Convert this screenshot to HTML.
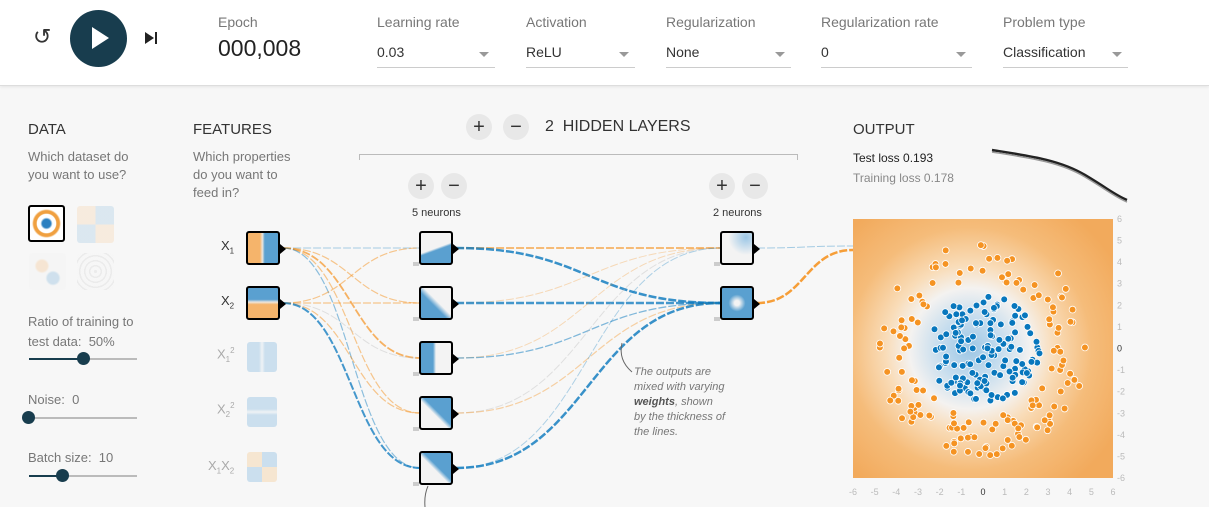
<!DOCTYPE html>
<html><head><meta charset="utf-8"><style>
*{margin:0;padding:0;box-sizing:border-box}
body{width:1209px;height:507px;overflow:hidden;background:#f7f7f7;font-family:"Liberation Sans",sans-serif;position:relative;color:#333}
.hdr{position:absolute;left:0;top:0;width:1209px;height:86px;background:#fff;border-bottom:1px solid #ddd;box-shadow:0 1px 3px rgba(0,0,0,.08)}
.a{position:absolute;white-space:nowrap}
.lbl{font-size:14px;color:#777}
.sel{position:absolute;top:44px;font-size:14px;color:#333;border-bottom:1px solid #ccc;height:24px}
.sel:after{content:"";position:absolute;right:6px;top:8px;border:5px solid transparent;border-top-color:#999}
.ttl{font-size:15px;color:#333}
.sub{font-size:13px;color:#777;line-height:18px}
.node{position:absolute;width:34px;height:34px;border:2px solid #000;border-radius:3px}
.node:after{content:"";position:absolute;right:-8px;top:11px;border-left:6px solid #000;border-top:5px solid transparent;border-bottom:5px solid transparent}
.faint{position:absolute;width:30px;height:30px;border-radius:3px;opacity:.35}
.btn{position:absolute;width:26px;height:26px;border-radius:50%;background:#e8e8e8;text-align:center;line-height:26px;font-size:20px;color:#333}
.thumb{position:absolute;width:37px;height:37px;border-radius:3px}
.track{position:absolute;height:2px;background:#bbb}
.knob{position:absolute;width:13px;height:13px;border-radius:50%;background:#183d4e}
</style></head><body>
<div class="hdr">
 <div class="a" style="left:33px;top:24px;font-size:22px;color:#333">&#8634;</div>
 <div class="a" style="left:70px;top:10px;width:57px;height:57px;border-radius:50%;background:#183d4e"></div>
 <div class="a" style="left:92px;top:27px;width:0;height:0;border-left:17px solid #fff;border-top:11px solid transparent;border-bottom:11px solid transparent"></div>
 <div class="a" style="left:145px;top:32px;width:0;height:0;border-left:9px solid #222;border-top:6px solid transparent;border-bottom:6px solid transparent"></div>
 <div class="a" style="left:155px;top:32px;width:2px;height:12px;background:#222"></div>
 <div class="a lbl" style="left:218px;top:14px">Epoch</div>
 <div class="a" style="left:218px;top:35px;font-size:23px;color:#222">000,008</div>
 <div class="a lbl" style="left:377px;top:14px">Learning rate</div><div class="sel" style="left:377px;width:118px">0.03</div>
 <div class="a lbl" style="left:526px;top:14px">Activation</div><div class="sel" style="left:526px;width:109px">ReLU</div>
 <div class="a lbl" style="left:666px;top:14px">Regularization</div><div class="sel" style="left:666px;width:125px">None</div>
 <div class="a lbl" style="left:821px;top:14px">Regularization rate</div><div class="sel" style="left:821px;width:151px">0</div>
 <div class="a lbl" style="left:1003px;top:14px">Problem type</div><div class="sel" style="left:1003px;width:125px">Classification</div>
</div>

<div class="a ttl" style="left:28px;top:121px">DATA</div>
<div class="a sub" style="left:28px;top:148px">Which dataset do<br>you want to use?</div>
<div class="thumb" style="left:28px;top:205px;border:2px solid #000;background:radial-gradient(circle,#2a7fc0 0 18%,#fff 26% 40%,#f0a040 44% 55%,#fff 62%)"></div>
<div class="thumb" style="left:77px;top:206px;opacity:.18;background:conic-gradient(#5aa0d0 0 25%,#f5b46b 25% 50%,#5aa0d0 50% 75%,#f5b46b 75%)"></div>
<div class="thumb" style="left:29px;top:253px;opacity:.25;background:radial-gradient(circle at 35% 35%,#f5b46b 0 16%,transparent 22%),radial-gradient(circle at 65% 68%,#5aa0d0 0 16%,transparent 22%),#f3f3f3"></div>
<div class="thumb" style="left:77px;top:253px;opacity:.2;background:repeating-radial-gradient(circle,#bbb 0 1.5px,#f5f5f5 1.5px 5px)"></div>
<div class="a sub" style="left:28px;top:312px;line-height:20px">Ratio of training to<br>test data:&nbsp; 50%</div>
<div class="track" style="left:29px;top:358px;width:108px"></div><div class="track" style="left:29px;top:358px;width:54px;background:#183d4e"></div><div class="knob" style="left:77px;top:352px"></div>
<div class="a sub" style="left:28px;top:391px">Noise:&nbsp; 0</div>
<div class="track" style="left:29px;top:417px;width:108px"></div><div class="knob" style="left:22px;top:411px"></div>
<div class="a sub" style="left:28px;top:449px">Batch size:&nbsp; 10</div>
<div class="track" style="left:29px;top:475px;width:108px"></div><div class="track" style="left:29px;top:475px;width:33px;background:#183d4e"></div><div class="knob" style="left:56px;top:469px"></div>

<div class="a ttl" style="left:193px;top:121px">FEATURES</div>
<div class="a sub" style="left:193px;top:148px">Which properties<br>do you want to<br>feed in?</div>

<div class="btn" style="left:466px;top:114px">+</div><div class="btn" style="left:503px;top:114px">&minus;</div>
<div class="a" style="left:545px;top:118px;font-size:16px;color:#333">2&nbsp; HIDDEN LAYERS</div>
<div class="a" style="left:359px;top:154px;width:439px;height:6px;border-top:1px solid #bbb;border-left:1px solid #bbb;border-right:1px solid #bbb"></div>
<div class="btn" style="left:408px;top:173px">+</div><div class="btn" style="left:441px;top:173px">&minus;</div>
<div class="a" style="left:412px;top:207px;font-size:11px;color:#333">5 neurons</div>
<div class="btn" style="left:709px;top:173px">+</div><div class="btn" style="left:742px;top:173px">&minus;</div>
<div class="a" style="left:713px;top:207px;font-size:11px;color:#333">2 neurons</div>

<div class="a ttl" style="left:853px;top:121px">OUTPUT</div>
<div class="a" style="left:853px;top:151px;font-size:12px;color:#222">Test loss 0.193</div>
<div class="a" style="left:853px;top:171px;font-size:12px;color:#888">Training loss 0.178</div>

<svg class="a" style="left:0;top:0" width="1209" height="507" id="sv">
 <defs>
  <radialGradient id="rg" cx="45%" cy="50%" r="65%">
   <stop offset="0" stop-color="#9cc6e4"/><stop offset=".18" stop-color="#c4dcee"/><stop offset=".36" stop-color="#f4f2f0"/><stop offset=".5" stop-color="#f9dcb8"/><stop offset=".72" stop-color="#f5bc7a"/><stop offset="1" stop-color="#f2aa5c"/>
  </radialGradient>
 </defs>
 <g id="links" fill="none"></g>
 <path d="M992 150 C1030 156 1060 160 1085 175 S1115 195 1127 200" stroke="#222" stroke-width="2.5" fill="none"/>
 <path d="M992 152 C1030 158 1060 162 1085 177 S1115 197 1127 202" stroke="#999" stroke-width="1.5" fill="none"/>
 <rect x="853" y="219" width="260" height="259" fill="url(#rg)"/>
 <g id="dots"></g>
 <g id="ax" font-size="9" fill="#bbb" font-family="Liberation Sans"></g>
 <path d="M622 343 Q618 360 632 372" stroke="#666" fill="none" stroke-width="1"/>
 <path d="M428 486 Q424 495 425 507" stroke="#666" fill="none" stroke-width="1"/>
</svg>

<div class="a" style="left:221px;top:238px;font-size:13px">X<sub style="font-size:8px">1</sub></div>
<div class="a" style="left:221px;top:293px;font-size:13px">X<sub style="font-size:8px">2</sub></div>
<div class="a" style="left:217px;top:346px;font-size:13px;color:#aaa">X<sub style="font-size:8px">1</sub><sup style="font-size:8px">2</sup></div>
<div class="a" style="left:217px;top:401px;font-size:13px;color:#aaa">X<sub style="font-size:8px">2</sub><sup style="font-size:8px">2</sup></div>
<div class="a" style="left:208px;top:458px;font-size:13px;color:#aaa">X<sub style="font-size:8px">1</sub>X<sub style="font-size:8px">2</sub></div>
<div class="node" style="left:246px;top:231px;background:linear-gradient(90deg,#f5b46b 0 40%,#ece6de 48%,#5aa0d0 56%)"></div>
<div class="node" style="left:246px;top:286px;background:linear-gradient(180deg,#5aa0d0 0 38%,#ece6de 47%,#f5b46b 55%)"></div>
<div class="faint" style="left:247px;top:342px;background:linear-gradient(90deg,#7ab3dc 0 40%,#dfeaf2 50%,#7ab3dc 60%)"></div>
<div class="faint" style="left:247px;top:397px;background:linear-gradient(180deg,#7ab3dc 0 40%,#dfeaf2 50%,#7ab3dc 60%)"></div>
<div class="faint" style="left:247px;top:452px;background:conic-gradient(#7ab3dc 0 25%,#f5c58a 25% 50%,#7ab3dc 50% 75%,#f5c58a 75%)"></div>

<div class="node" style="left:419px;top:231px;background:linear-gradient(160deg,#f3f3f3 50%,#5aa0d0 56%)"></div>
<div class="node" style="left:419px;top:286px;background:linear-gradient(45deg,#5aa0d0 42%,#f3f3f3 55%)"></div>
<div class="node" style="left:419px;top:341px;background:linear-gradient(90deg,#5aa0d0 40%,#f3f3f3 50%)"></div>
<div class="node" style="left:419px;top:396px;background:linear-gradient(45deg,#f3f3f3 45%,#5aa0d0 55%)"></div>
<div class="node" style="left:419px;top:451px;background:linear-gradient(225deg,#5aa0d0 45%,#f3f3f3 55%)"></div>
<div class="node" style="left:720px;top:231px;background:radial-gradient(circle at 80% 15%,#9cc7e6,#f3f3f3 50%)"></div>
<div class="node" style="left:720px;top:286px;background:radial-gradient(ellipse at 50% 50%,#f3f3f3 0 12%,#5aa0d0 40%)"></div>

<div class="a" style="left:634px;top:365px;font-size:11px;font-style:italic;color:#777;line-height:15px">The outputs are<br>mixed with varying<br><b style="color:#555">weights</b>, shown<br>by the thickness of<br>the lines.</div>

<script>
var ns="http://www.w3.org/2000/svg",L=document.getElementById("links");
function ln(x1,y1,x2,y2,c,w,o){var m=(x1+x2)/2,p=document.createElementNS(ns,"path");p.setAttribute("d","M"+x1+" "+y1+" C"+m+" "+y1+","+m+" "+y2+","+x2+" "+y2);p.setAttribute("stroke",c);p.setAttribute("stroke-width",w);p.setAttribute("opacity",o);p.setAttribute("stroke-dasharray","8 2");L.appendChild(p);}
var O="#f59322",B="#0877bd",G="#bbb";
var ys=[248,303,358,413,468];
[[B,1,.35],[O,1.2,.5],[O,1.8,.7],[O,1.2,.5],[B,1.2,.45]].forEach(function(a,i){ln(283,248,420,ys[i],a[0],a[1],a[2]);});
[[O,1.2,.5],[O,1.2,.5],[G,1,.4],[O,1.2,.5],[B,2,.75]].forEach(function(a,i){ln(283,303,420,ys[i],a[0],a[1],a[2]);});
var l2=[[[O,2,.6],[B,2.5,.8]],[[O,1,.3],[B,2.5,.75]],[[O,1,.3],[B,1.3,.5]],[[G,1,.4],[O,1.2,.4]],[[B,1,.3],[B,2.5,.8]]];
l2.forEach(function(r,i){ln(456,ys[i],721,248,r[0][0],r[0][1],r[0][2]);ln(456,ys[i],721,303,r[1][0],r[1][1],r[1][2]);});
ln(757,248,853,246,B,1,.35);ln(757,303,853,250,O,2.5,.9);
[[413,262],[413,317],[413,372],[413,427],[413,482],[714,262],[714,317]].forEach(function(p){var r=document.createElementNS(ns,"rect");r.setAttribute("x",p[0]);r.setAttribute("y",p[1]);r.setAttribute("width",6);r.setAttribute("height",4);r.setAttribute("fill","#ccc");L.appendChild(r);});
var s=7;function rnd(){s=(s*16807)%2147483647;return s/2147483647;}
var D=document.getElementById("dots");
function dot(x,y,c){var e=document.createElementNS(ns,"circle");e.setAttribute("cx",983+x*21.67);e.setAttribute("cy",348.5-y*21.6);e.setAttribute("r",3.4);e.setAttribute("fill",c);e.setAttribute("stroke","#fff");e.setAttribute("stroke-width",0.8);D.appendChild(e);}
for(var i=0;i<150;i++){var a=rnd()*6.283,r=Math.sqrt(rnd())*2.5;dot(r*Math.cos(a)*1.05,r*Math.sin(a),B);}
for(var i=0;i<150;i++){var a=rnd()*6.283,r=3.2+rnd()*1.8;dot(r*Math.cos(a),r*Math.sin(a),O);}
var A=document.getElementById("ax");
for(var k=-6;k<=6;k++){var t=document.createElementNS(ns,"text");t.setAttribute("x",1117);t.setAttribute("y",351.5-k*21.6);t.textContent=k;if(k==0)t.setAttribute("fill","#333");A.appendChild(t);
var u=document.createElementNS(ns,"text");u.setAttribute("x",983+k*21.67);u.setAttribute("y",495);u.setAttribute("text-anchor","middle");u.textContent=k;if(k==0)u.setAttribute("fill","#333");A.appendChild(u);}
</script>
</body></html>
